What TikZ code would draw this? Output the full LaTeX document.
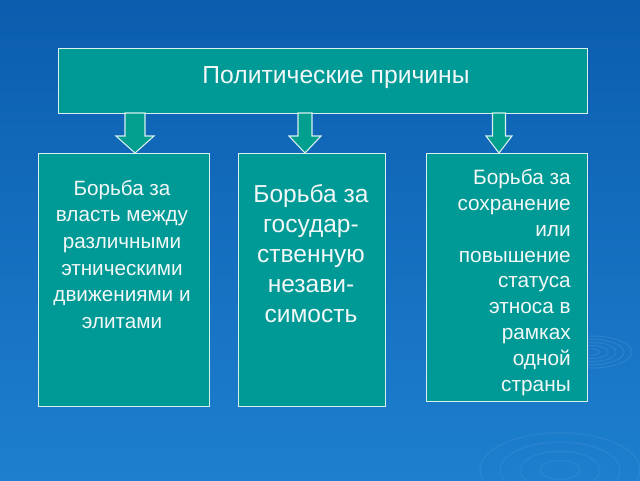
\documentclass[tikz,border=0pt]{standalone}
\usepackage{fontspec}
\setmainfont{Liberation Sans}
\usetikzlibrary{calc}
\definecolor{bgtop}{HTML}{0B5DAE}
\definecolor{bgbot}{HTML}{1E7FCF}
\definecolor{teal}{HTML}{009A96}
\definecolor{txt}{HTML}{F2F7F7}
\tikzset{
  box/.style={draw=white!85!teal, line width=1pt, fill=teal},
  blockarrow/.style={draw=white!85!teal, line width=0.8pt, fill=teal!95!green},
  lbl/.style={text=txt, inner sep=0pt},
}
\begin{document}
\begin{tikzpicture}[x=0.75pt,y=-0.75pt]
\shade[top color=bgtop, bottom color=bgbot] (0,0) rectangle (640,480);
\useasboundingbox (0,0) rectangle (640,480);
% faint ripples
\foreach \r in {8,16,24,32,40}
  \draw[white, opacity=0.08, line width=0.8pt] (592,352) ellipse ({\r*0.75pt} and {\r*0.3pt});
\foreach \r in {20,40,60,80}
  \draw[white, opacity=0.05, line width=1pt] (560,470) ellipse ({\r*0.75pt} and {\r*0.35pt});
% boxes
\node[box, anchor=north west, minimum width=529*0.75pt, minimum height=65*0.75pt, inner sep=0pt] (top) at (58,48) {};
\node[box, anchor=north west, minimum width=171*0.75pt, minimum height=253*0.75pt, inner sep=0pt] (b1) at (38,153) {};
\node[box, anchor=north west, minimum width=147*0.75pt, minimum height=253*0.75pt, inner sep=0pt] (b2) at (238,153) {};
\node[box, anchor=north west, minimum width=161*0.75pt, minimum height=248*0.75pt, inner sep=0pt] (b3) at (426,153) {};
% texts
\node[lbl, font=\fontsize{18.5}{22}\selectfont] (t0) at (336,78) {Политические причины};
\node[lbl, anchor=north, align=center, font=\fontsize{15.5}{19.9}\selectfont] (t1) at (122,180)
  {Борьба за\\власть между\\различными\\этническими\\движениями и\\элитами};
\node[lbl, anchor=north, align=center, font=\fontsize{18.4}{22.5}\selectfont] (t2) at (311,184)
  {Борьба за\\государ-\\ственную\\незави-\\симость};
\node[lbl, anchor=north east, align=right, font=\fontsize{15.6}{19.4}\selectfont] (t3) at (571,169)
  {Борьба за\\сохранение\\или\\повышение\\статуса\\этноса в\\рамках\\одной\\страны};
% block arrows
\foreach \cx/\sw/\hw/\tgt in {135/10/19/b1, 305/7/16/b2, 499/6.5/13/b3}{
  \draw[blockarrow] (\cx-\sw, 113) -- (\cx+\sw, 113) -- (\cx+\sw, 136) -- (\cx+\hw, 136)
    -- (\cx, 153) -- (\cx-\hw, 136) -- (\cx-\sw, 136) -- cycle;
}
\end{tikzpicture}
\end{document}
